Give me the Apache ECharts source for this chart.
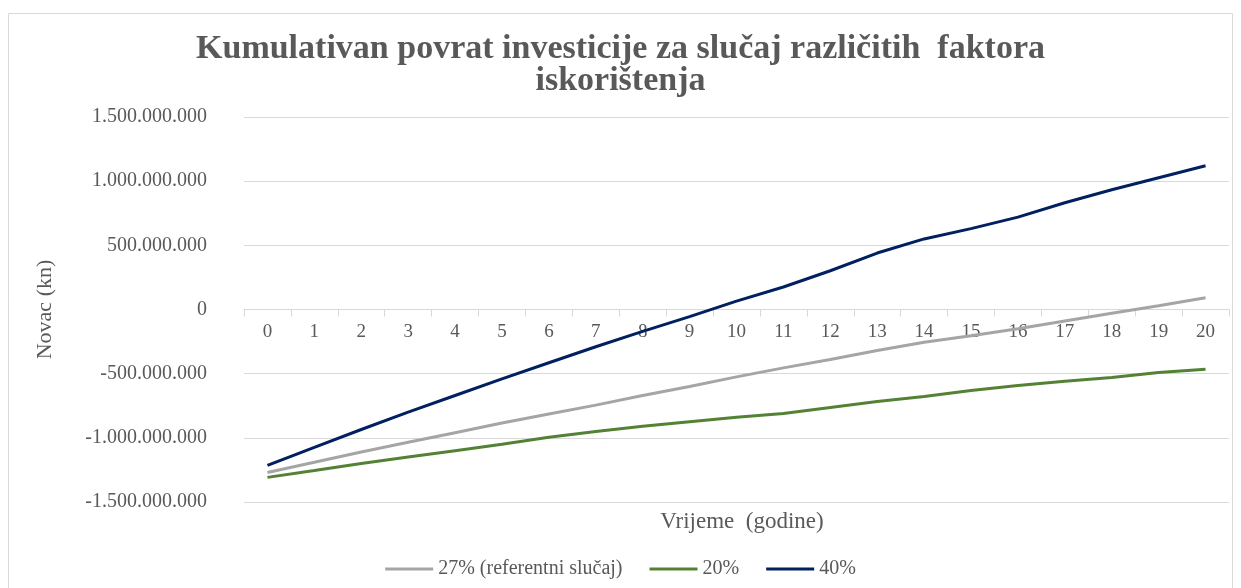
<!DOCTYPE html>
<html>
<head>
<meta charset="utf-8">
<script src="https://cdn.jsdelivr.net/npm/echarts@6/dist/echarts.min.js"></script>
<style>
  html, body { margin: 0; padding: 0; background: #ffffff; }
  #chart { width: 1241px; height: 588px; }
</style>
</head>
<body>
<div id="chart"></div>
<script>
// Years of operation
const years = ['0','1','2','3','4','5','6','7','8','9','10','11','12','13','14','15','16','17','18','19','20'];

// Cumulative return (kn) per capacity factor
const ref27 = [-1270e6,-1190e6,-1110e6,-1035e6,-960e6,-885e6,-815e6,-745e6,-670e6,-600e6,-525e6,-455e6,-390e6,-320e6,-255e6,-205e6,-150e6,-90e6,-30e6,30e6,92e6];
const cf20  = [-1308e6,-1255e6,-1200e6,-1150e6,-1100e6,-1050e6,-995e6,-950e6,-910e6,-875e6,-840e6,-810e6,-763e6,-717e6,-678e6,-631e6,-592e6,-560e6,-530e6,-491e6,-465e6];
const cf40  = [-1215e6,-1075e6,-935e6,-800e6,-670e6,-540e6,-415e6,-290e6,-170e6,-55e6,65e6,175e6,302e6,440e6,550e6,630e6,720e6,832e6,933e6,1027e6,1120e6];

const seriesNames = ['27% (referentni slučaj)', '20%', '40%'];
const seriesColors = ['#a5a5a5', '#548235', '#002060'];
const yMin = -1500e6, yMax = 1500e6, yStep = 500e6;

const serif = '"Liberation Serif", "DejaVu Serif", serif';
const textGrey = '#595959';

// plot box
const gridTop = 117, gridBottom = 86, chartH = 588;
const plotH = chartH - gridTop - gridBottom;
// distance from the plot's bottom edge up to the zero line
const zeroLift = plotH * (0 - yMin) / (yMax - yMin);

function dotted(v) {
  const s = Math.abs(Math.round(v)).toString().replace(/\B(?=(\d{3})+(?!\d))/g, '.');
  return (v < 0 ? '-' : '') + s;
}

const chart = echarts.init(document.getElementById('chart'));
chart.setOption({
  backgroundColor: '#ffffff',
  animation: false,
  graphic: [{
    type: 'rect',
    shape: { x: 8.5, y: 13.5, width: 1224, height: 600 },
    style: { fill: 'none', stroke: '#d9d9d9', lineWidth: 1 },
    silent: true
  }],
  title: [{
    text: 'Kumulativan povrat investicije za slučaj različitih  faktora\niskorištenja',
    left: 'center',
    top: 28,
    textStyle: {
      fontFamily: serif, fontWeight: 'bold', fontSize: 34,
      lineHeight: 32, color: textGrey
    }
  }, {
    text: 'Vrijeme  (godine)',
    left: 737,
    textAlign: 'center',
    top: 505,
    textStyle: { fontFamily: serif, fontWeight: 'normal', fontSize: 23, color: textGrey }
  }],
  legend: {
    bottom: 4,
    left: 'center',
    icon: 'rect',
    itemWidth: 48,
    itemHeight: 3,
    itemGap: 27,
    textStyle: { fontFamily: serif, fontSize: 20, color: textGrey },
    data: seriesNames
  },
  grid: { left: 244, right: 12, top: gridTop, bottom: gridBottom },
  xAxis: {
    type: 'category',
    data: years,
    boundaryGap: true,
    offset: -zeroLift,
    axisLine: { onZero: false, lineStyle: { color: '#d9d9d9', width: 1 } },
    axisTick: { show: true, length: 7, lineStyle: { color: '#d9d9d9' } },
    axisLabel: { fontFamily: serif, fontSize: 19, color: textGrey, margin: 13 }
  },
  yAxis: {
    type: 'value',
    min: yMin, max: yMax, interval: yStep,
    name: 'Novac (kn)',
    nameLocation: 'middle',
    nameGap: 188,
    nameTextStyle: { fontFamily: serif, fontSize: 22, color: textGrey },
    axisLine: { show: false },
    axisTick: { show: false },
    splitLine: { lineStyle: { color: '#d9d9d9', width: 1 } },
    axisLabel: { fontFamily: serif, fontSize: 20, color: textGrey, margin: 37, formatter: dotted }
  },
  series: [ref27, cf20, cf40].map((d, i) => ({
    name: seriesNames[i],
    type: 'line',
    data: d,
    symbol: 'none',
    lineStyle: { color: seriesColors[i], width: 3 },
    itemStyle: { color: seriesColors[i] }
  }))
});
</script>
</body>
</html>
